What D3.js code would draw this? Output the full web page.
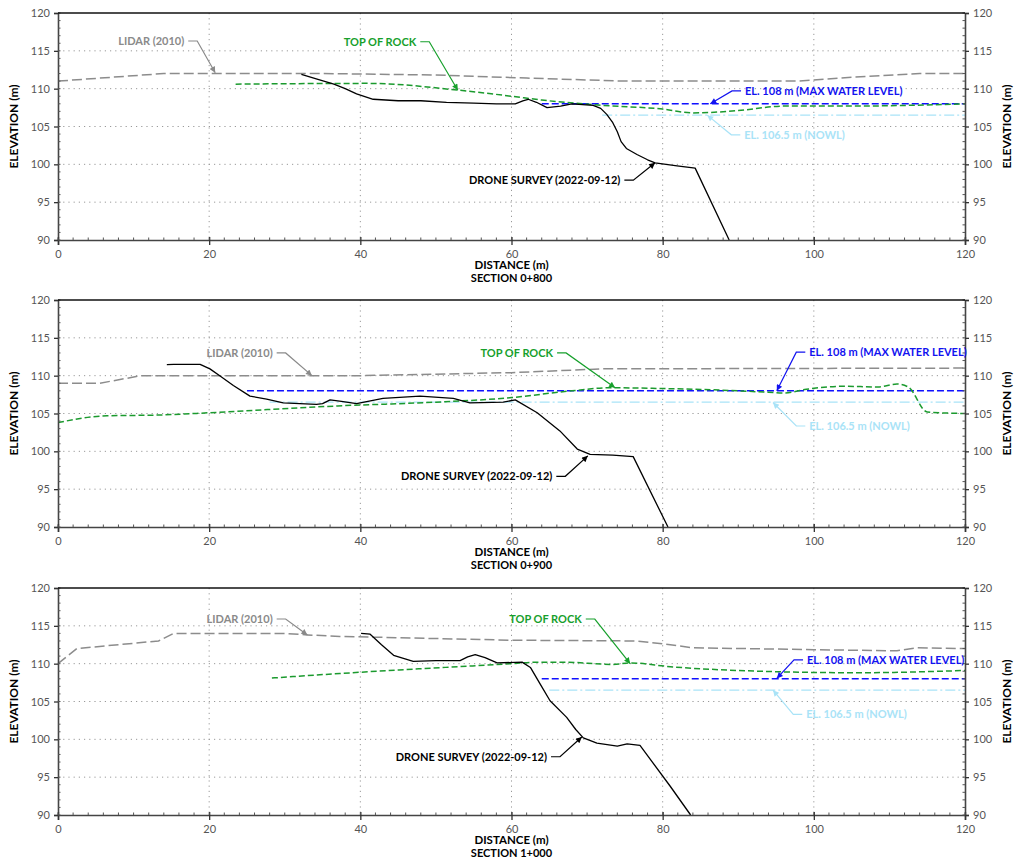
<!DOCTYPE html>
<html lang="en">
<head>
<meta charset="UTF-8">
<title>Cross sections</title>
<script src="https://d3js.org/d3.v7.min.js"></script>
<style>
  body { margin: 0; background: #fff; }
  text { font-family: Lato, "DejaVu Sans", sans-serif; }
</style>
</head>
<body>
<svg id="chart" width="1016" height="863"></svg>
<script>
// ---- data (distance m, elevation m) ----
const distTicks = [0, 20, 40, 60, 80, 100, 120];
const elevTicks = [90, 95, 100, 105, 110, 115, 120];
const sectionNames = ["SECTION 0+800", "SECTION 0+900", "SECTION 1+000"];

const maxWaterLevel = 108;
const nowlLevel = 106.5;
const maxWaterStart = [64, 25, 64];
const nowlStart = [72, 28, 65];

// section 0+800
const lidar800 = [[0,111],[14,112],[35,112],[50,111.8],[62,111.4],[75,111],[98,111],[105,111.5],[114,112],[120,112]];
const rock800 = [[23.5,110.6],[41,110.7],[53,109.8],[60,109],[64,108.5],[72,107.8],[80,107.3],[84,106.8],[90,107.1],[96,107.7],[105,107.7],[120,108]];
const drone800 = [[32.2,111.9],[34.5,111.2],[36.5,110.6],[38,110],[39.5,109.3],[41.7,108.6],[45,108.4],[48,108.4],[51.4,108.2],[55,108.1],[58,108],[60.5,108],[61.5,108.4],[62.2,108.6],[63.3,108.2],[64.7,107.5],[66.5,107.7],[68,108],[70.8,107.8],[71.8,107.4],[72.6,106.6],[73.4,105.5],[74,104.3],[74.5,103],[75.2,102.1],[76.6,101.3],[78,100.6],[79,100.2],[81.9,99.8],[84.3,99.5],[88.8,90]];

// section 0+900
const lidar900 = [[0,109],[5.5,109],[11,110],[40,110],[60,110.4],[72,110.9],[120,111]];
const rock900 = [[0,103.8],[6.5,104.7],[13.5,104.8],[20,105.1],[37,106],[50,106.5],[60,107.1],[68,108],[73,108.4],[80,108.3],[90,108],[94,107.8],[96,107.7],[99,108.2],[104,108.6],[108.5,108.5],[111,108.9],[112.5,108.5],[115,105.2],[120,105]];
const drone900 = [[14.4,111.45],[15.3,111.5],[18.8,111.5],[20.1,110.9],[21.4,110],[23.2,108.7],[25.4,107.3],[27.6,106.9],[29.8,106.4],[34.2,106.2],[35,106.3],[36,106.8],[37.5,106.6],[39.5,106.3],[43,107],[47.9,107.3],[52.3,107],[54.5,106.4],[58.9,106.5],[60.5,106.8],[63.4,105.1],[66.4,102.7],[68.7,100.3],[70.4,99.6],[73.4,99.5],[76.1,99.3],[80.7,90]];

// section 1+000
const lidar1000 = [[0,110],[2.5,112],[13.3,113],[15.3,114],[30,114],[33,113.8],[37.3,113.6],[60,113.1],[76.6,113],[81,112.5],[84,112.1],[100,111.85],[111,111.7],[113.7,112.1],[120,112]];
const rock1000 = [[28.3,108.1],[37.3,108.7],[60,110],[63.4,110.2],[66.8,110.2],[73.4,109.9],[75.7,110.1],[81,109.6],[92.9,109],[105.7,108.8],[120,109.1]];
const drone1000 = [[40.1,114],[41.3,113.9],[42.8,112.5],[44.4,111.1],[47,110.3],[50,110.4],[53.2,110.4],[54.2,110.9],[55.2,111.2],[56.5,110.8],[58.1,110.1],[61.4,110.2],[62.5,109.5],[63.8,107.3],[65.1,105.1],[67.3,102.9],[68.5,101.3],[69.5,100.2],[71.3,99.5],[74,99.1],[75.3,99.4],[77,99.2],[81,93.8],[83.7,90]];

const lidarSets = [lidar800, lidar900, lidar1000];
const rockSets = [rock800, rock900, rock1000];
const droneSets = [drone800, drone900, drone1000];

// annotations: label anchor (lx, ly), arrow tip (tx, ty)
const labelNames = ["LIDAR (2010)", "TOP OF ROCK", "DRONE SURVEY (2022-09-12)", "EL. 108 m (MAX WATER LEVEL)", "EL. 106.5 m (NOWL)"];
const labelColors = ["#8a8a8a", "#17a02c", "#000000", "#1212f0", "#a9e3f7"];
const notes800 = [[16.7,116.3,20.8,112.1],[47.4,116.2,52.9,109.8],[74.4,97.9,79,100.2],[90.9,109.7,86.3,108],[90.8,103.9,85.9,106.5]];
const notes900 = [[28.4,113.0,33.6,110],[65.5,113.0,73.7,108.4],[65.4,96.7,70.1,99.4],[99.4,113.1,95.1,108],[99.4,103.35,94.6,106.45]];
const notes1000 = [[28.4,115.9,33,113.8],[69.3,115.9,75.7,110],[64.7,97.7,69.3,100.3],[99.1,110.5,95.1,108.05],[99.0,103.3,94.6,106.5]];
const noteSets = [notes800, notes900, notes1000];
const labelSide = ["end", "end", "end", "start", "start"];

// ---- layout ----
const svg = d3.select("#chart");
const left = 58, right = 965, plotH = 227;
const panelTops = [13, 300, 588];

const x = d3.scaleLinear().domain([0, 120]).range([left, right]);

// arrow markers, one per colour
const defs = svg.append("defs");
labelColors.forEach((c, i) => {
  defs.append("marker")
    .attr("id", "arr" + i)
    .attr("viewBox", "0 0 10 10")
    .attr("refX", 10).attr("refY", 5)
    .attr("markerWidth", 9).attr("markerHeight", 6)
    .attr("markerUnits", "userSpaceOnUse")
    .attr("orient", "auto")
    .append("path").attr("d", "M0,0L10,5L0,10z").attr("fill", c);
});

function drawPanel(k) {
  const top = panelTops[k];
  const y = d3.scaleLinear().domain([90, 120]).range([top + plotH, top]);
  const g = svg.append("g");

  // grid
  g.selectAll(".hg").data(elevTicks.slice(1, -1)).enter().append("line")
    .attr("x1", left).attr("x2", right)
    .attr("y1", d => y(d)).attr("y2", d => y(d))
    .attr("stroke", "#999").attr("stroke-width", 1).attr("stroke-dasharray", "1.2,4");
  g.selectAll(".vg").data(distTicks.slice(1, -1)).enter().append("line")
    .attr("y1", top).attr("y2", top + plotH)
    .attr("x1", d => x(d)).attr("x2", d => x(d))
    .attr("stroke", "#999").attr("stroke-width", 1).attr("stroke-dasharray", "1.2,4");

  // water levels
  g.append("line")
    .attr("x1", x(nowlStart[k])).attr("x2", x(120))
    .attr("y1", y(nowlLevel)).attr("y2", y(nowlLevel))
    .attr("stroke", "#a9e3f7").attr("stroke-width", 1.2).attr("stroke-dasharray", "10,3,2,3");
  g.append("line")
    .attr("x1", x(maxWaterStart[k])).attr("x2", x(120))
    .attr("y1", y(maxWaterLevel)).attr("y2", y(maxWaterLevel))
    .attr("stroke", "#1010ff").attr("stroke-width", 1.5).attr("stroke-dasharray", "7,3");

  const straight = d3.line().x(d => x(d[0])).y(d => y(d[1]));
  const smooth = d3.line().x(d => x(d[0])).y(d => y(d[1])).curve(d3.curveMonotoneX);

  g.append("path").datum(lidarSets[k]).attr("d", straight)
    .attr("fill", "none").attr("stroke", "#8c8c8c").attr("stroke-width", 1.5).attr("stroke-dasharray", "10,4");
  g.append("path").datum(rockSets[k]).attr("d", smooth)
    .attr("fill", "none").attr("stroke", "#1b9a2e").attr("stroke-width", 1.5).attr("stroke-dasharray", "6,3");
  g.append("path").datum(droneSets[k]).attr("d", straight)
    .attr("fill", "none").attr("stroke", "#000").attr("stroke-width", 1.3).attr("stroke-linejoin", "round");

  // axes
  const axL = g.append("g").attr("transform", `translate(${left},0)`)
    .call(d3.axisLeft(y).tickValues(elevTicks).tickSize(4).tickPadding(4));
  const axR = g.append("g").attr("transform", `translate(${right},0)`)
    .call(d3.axisRight(y).tickValues(elevTicks).tickSize(4).tickPadding(4));
  const axB = g.append("g").attr("transform", `translate(0,${top + plotH})`)
    .call(d3.axisBottom(x).tickValues(distTicks).tickSize(5).tickPadding(5));
  [axL, axR, axB].forEach(a => {
    a.select(".domain").attr("stroke", "#444").attr("stroke-width", 1.6);
    a.selectAll(".tick line").attr("stroke", "#333").attr("stroke-width", 1.3);
    a.selectAll("text").attr("fill", "#555").attr("font-size", 11).attr("font-family", "Lato, sans-serif");
  });
  axB.selectAll(".tick line").attr("y1", -3);
  // minor ticks
  const minorY = d3.range(90, 121, 1);
  g.selectAll(".mly").data(minorY).enter().append("line")
    .attr("x1", left).attr("x2", left + 2.5).attr("y1", d => y(d)).attr("y2", d => y(d))
    .attr("stroke", "#555").attr("stroke-width", 1);
  g.selectAll(".mry").data(minorY).enter().append("line")
    .attr("x1", right).attr("x2", right - 2.5).attr("y1", d => y(d)).attr("y2", d => y(d))
    .attr("stroke", "#555").attr("stroke-width", 1);
  g.selectAll(".mbx").data(d3.range(0, 121, 2)).enter().append("line")
    .attr("x1", d => x(d)).attr("x2", d => x(d)).attr("y1", top + plotH).attr("y2", top + plotH - 2.5)
    .attr("stroke", "#555").attr("stroke-width", 1);
  g.append("line").attr("x1", left).attr("x2", right).attr("y1", top).attr("y2", top)
    .attr("stroke", "#111").attr("stroke-width", 1.6);

  // axis titles
  const mid = top + plotH / 2;
  g.append("text").attr("transform", `translate(18,${mid}) rotate(-90)`)
    .attr("text-anchor", "middle").attr("font-size", 12).attr("font-weight", "bold").text("ELEVATION (m)");
  g.append("text").attr("transform", `translate(1011,${mid}) rotate(-90)`)
    .attr("text-anchor", "middle").attr("font-size", 12).attr("font-weight", "bold").text("ELEVATION (m)");
  g.append("text").attr("x", (left + right) / 2).attr("y", top + plotH + 29)
    .attr("text-anchor", "middle").attr("font-size", 11.5).attr("font-weight", "bold").text("DISTANCE (m)");
  g.append("text").attr("x", (left + right) / 2).attr("y", top + plotH + 42)
    .attr("text-anchor", "middle").attr("font-size", 11).attr("font-weight", "bold").text(sectionNames[k]);

  // annotations
  noteSets[k].forEach((n, i) => {
    const [lx, ly, tx, ty] = n;
    const dir = labelSide[i] === "end" ? 1 : -1;
    const x0 = x(lx) + dir * 4, x1 = x0 + dir * 9;
    g.append("path")
      .attr("d", `M${x0},${y(ly)}L${x1},${y(ly)}L${x(tx)},${y(ty)}`)
      .attr("fill", "none").attr("stroke", labelColors[i]).attr("stroke-width", 1.2)
      .attr("marker-end", `url(#arr${i})`);
    g.append("text").attr("x", x(lx)).attr("y", y(ly)).attr("dy", "0.35em")
      .attr("text-anchor", labelSide[i]).attr("font-size", 11).attr("font-weight", "bold")
      .attr("fill", labelColors[i]).text(labelNames[i]);
  });
}

[0, 1, 2].forEach(drawPanel);
</script>
</body>
</html>
